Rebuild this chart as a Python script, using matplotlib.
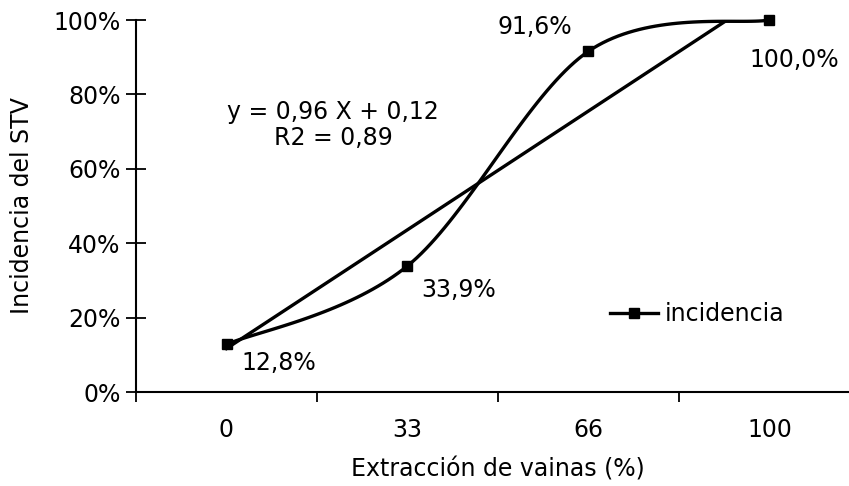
import numpy as np
import matplotlib
matplotlib.use('Agg')
import matplotlib.pyplot as plt
from matplotlib.ticker import PercentFormatter

categorias = ['0', '33', '66', '100']
incidencia = [0.128, 0.339, 0.916, 1.000]
etiquetas = ['12,8%', '33,9%', '91,6%', '100,0%']
ecuacion = 'y = 0,96 X + 0,12\nR2 = 0,89'


def suavizar(x, y, n=40):
    # curva tipo Excel: bezier con puntos de control Catmull-Rom
    px = np.concatenate([[x[0]], x, [x[-1]]])
    py = np.concatenate([[y[0]], y, [y[-1]]])
    xs, ys = [], []
    t = np.linspace(0, 1, n)
    for i in range(1, len(px) - 2):
        p0 = np.array([px[i], py[i]])
        p3 = np.array([px[i + 1], py[i + 1]])
        c1 = p0 + (p3 - np.array([px[i - 1], py[i - 1]])) / 6
        c2 = p3 - (np.array([px[i + 2], py[i + 2]]) - p0) / 6
        pts = ((1 - t) ** 3)[:, None] * p0 + (3 * (1 - t) ** 2 * t)[:, None] * c1 \
            + (3 * (1 - t) * t ** 2)[:, None] * c2 + (t ** 3)[:, None] * p3
        xs.extend(pts[:, 0])
        ys.extend(pts[:, 1])
    return np.array(xs), np.array(ys)


x = np.arange(1, len(categorias) + 1, dtype=float)
y = np.array(incidencia)
fs = 17

plt.rcParams['font.family'] = ['DejaVu Sans']
fig = plt.figure(figsize=(8.49, 4.86), dpi=100)
ax = fig.add_axes([136 / 849, 1 - 392 / 486, 724 / 849, 372 / 486])

sx, sy = suavizar(x, y)
ax.plot(sx, sy, color='black', lw=2.4, zorder=3, clip_on=False)
ax.plot(x, y, 's', color='black', ms=7.5, zorder=4, clip_on=False)
ax.plot([], [], '-s', color='black', lw=2.4, ms=7.5, label='incidencia')

# tendencia lineal
m, b = np.polyfit(x, y, 1)
tx = np.array([x[0], x[-1]])
ax.plot(tx, m * tx + b, color='black', lw=2.4, zorder=2)

offs = [(11, -5, 'left', 'top'), (10, -9, 'left', 'top'),
        (-12, 9, 'right', 'bottom'), (18, -20, 'center', 'top')]
for xi, yi, lab, (dx, dy, ha, va) in zip(x, y, etiquetas, offs):
    ax.annotate(lab, (xi, yi), xytext=(dx, dy), textcoords='offset points',
                ha=ha, va=va, fontsize=fs)

ax.text(1.59, 0.718, ecuacion, ha='center', va='center', fontsize=fs,
        linespacing=1.1)

ax.set_xlim(0.5, 4.5)
ax.set_ylim(0, 1)
ax.set_yticks(np.arange(0, 1.01, 0.2))
ax.yaxis.set_major_formatter(PercentFormatter(1.0, decimals=0))
ax.set_xticks(np.arange(0.5, 4.6, 1))
ax.set_xticklabels([])
ax.set_xticks(x, minor=True)
ax.set_xticklabels(categorias, minor=True)
ax.tick_params(axis='x', which='minor', length=0, pad=19, labelsize=fs)
ax.tick_params(axis='x', which='major', length=7, width=1.3, direction='out')
ax.tick_params(axis='y', length=14, width=1.3, direction='inout', labelsize=fs, pad=4)
for s in ['top', 'right']:
    ax.spines[s].set_visible(False)
for s in ['left', 'bottom']:
    ax.spines[s].set_linewidth(1.5)
ax.spines['bottom'].set_clip_on(False)

ax.set_xlabel('Extracción de vainas (%)', fontsize=fs, labelpad=11)
ax.set_ylabel('Incidencia del STV', fontsize=fs, labelpad=14)

ax.legend(loc='center left', bbox_to_anchor=(0.626, 0.21), frameon=False,
          fontsize=fs, handlelength=2.0, handletextpad=0.3)

fig.savefig('out.png', dpi=100)
